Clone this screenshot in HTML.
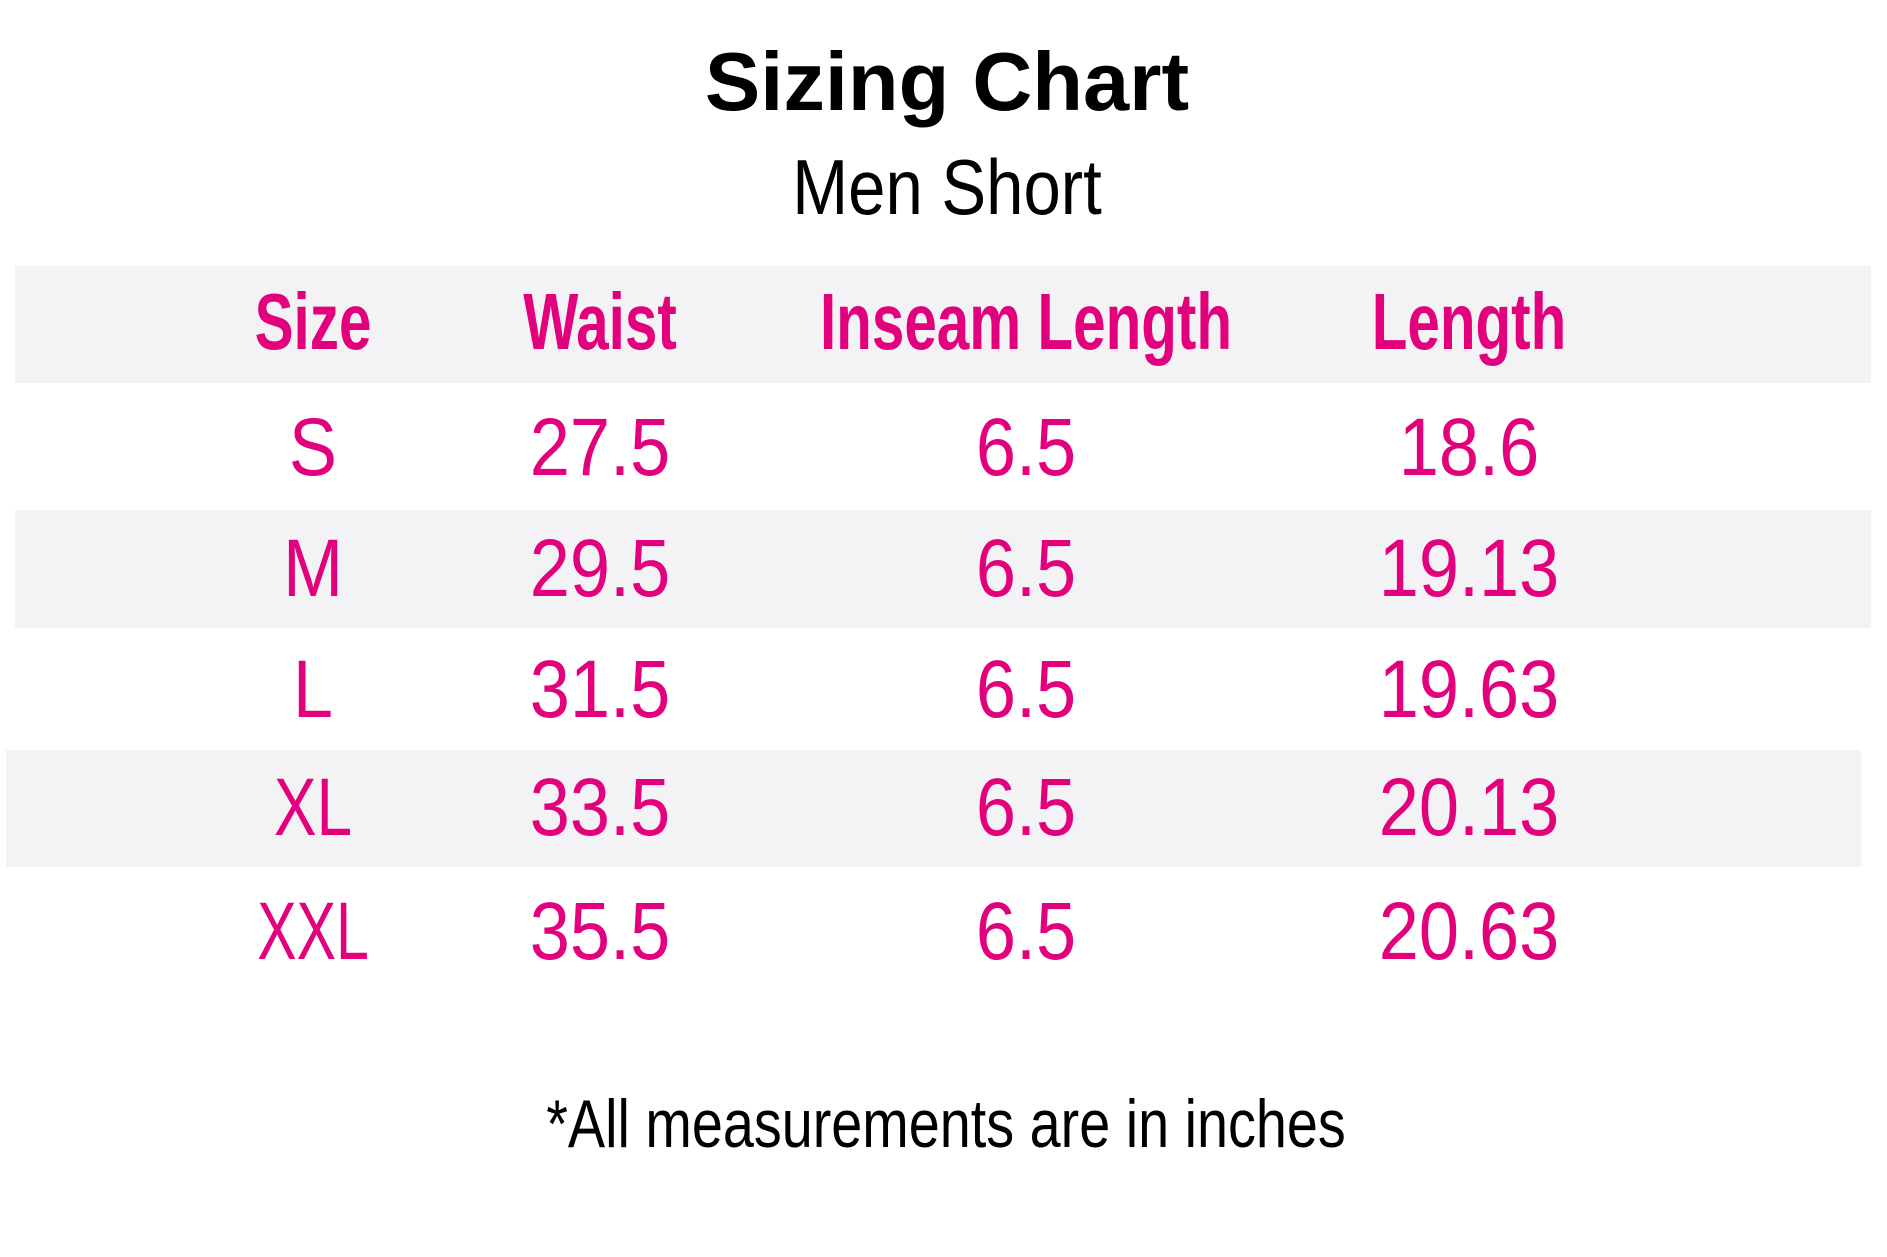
<!DOCTYPE html>
<html><head><meta charset="utf-8"><style>
body{margin:0;width:1887px;height:1257px;background:#fff;position:relative;overflow:hidden;font-family:"Liberation Sans",sans-serif}
.band{position:absolute;background:#f3f3f5}
.t{position:absolute;white-space:nowrap;transform:translateX(-50%)}
.h{color:#e2007d;font-weight:bold;font-size:80px;line-height:1}
.h span{display:inline-block;transform:scaleX(0.73)}
.c{color:#e2007d;font-size:82px;line-height:1}
.c span{display:inline-block;transform:scaleX(0.88)}
</style></head><body>
<div class="band" style="left:15px;top:266px;width:1856px;height:117px"></div>
<div class="band" style="left:15px;top:510px;width:1856px;height:118px"></div>
<div class="band" style="left:6px;top:750px;width:1855px;height:117px"></div>

<div class="t" style="left:947px;top:40px;font-size:83px;font-weight:bold;color:#000;line-height:1">Sizing Chart</div>
<div class="t" style="left:947px;top:148px;font-size:78px;color:#000;line-height:1"><span style="display:inline-block;transform:scaleX(0.86)">Men Short</span></div>

<div class="t h" style="left:313px;top:282px"><span>Size</span></div>
<div class="t h" style="left:600px;top:282px"><span>Waist</span></div>
<div class="t h" style="left:1026px;top:282px"><span>Inseam Length</span></div>
<div class="t h" style="left:1469px;top:282px"><span>Length</span></div>

<div class="t c" style="left:313px;top:407px"><span>S</span></div>
<div class="t c" style="left:600px;top:407px"><span>27.5</span></div>
<div class="t c" style="left:1026px;top:407px"><span>6.5</span></div>
<div class="t c" style="left:1469px;top:407px"><span>18.6</span></div>

<div class="t c" style="left:313px;top:528px"><span>M</span></div>
<div class="t c" style="left:600px;top:528px"><span>29.5</span></div>
<div class="t c" style="left:1026px;top:528px"><span>6.5</span></div>
<div class="t c" style="left:1469px;top:528px"><span>19.13</span></div>

<div class="t c" style="left:313px;top:649px"><span>L</span></div>
<div class="t c" style="left:600px;top:649px"><span>31.5</span></div>
<div class="t c" style="left:1026px;top:649px"><span>6.5</span></div>
<div class="t c" style="left:1469px;top:649px"><span>19.63</span></div>

<div class="t c" style="left:313px;top:767px"><span style="transform:scaleX(0.78)">XL</span></div>
<div class="t c" style="left:600px;top:767px"><span>33.5</span></div>
<div class="t c" style="left:1026px;top:767px"><span>6.5</span></div>
<div class="t c" style="left:1469px;top:767px"><span>20.13</span></div>

<div class="t c" style="left:313px;top:891px"><span style="transform:scaleX(0.72)">XXL</span></div>
<div class="t c" style="left:600px;top:891px"><span>35.5</span></div>
<div class="t c" style="left:1026px;top:891px"><span>6.5</span></div>
<div class="t c" style="left:1469px;top:891px"><span>20.63</span></div>

<div class="t" style="left:946px;top:1090px;font-size:68px;color:#000;line-height:1"><span style="display:inline-block;transform:scaleX(0.82)">*All measurements are in inches</span></div>
</body></html>
